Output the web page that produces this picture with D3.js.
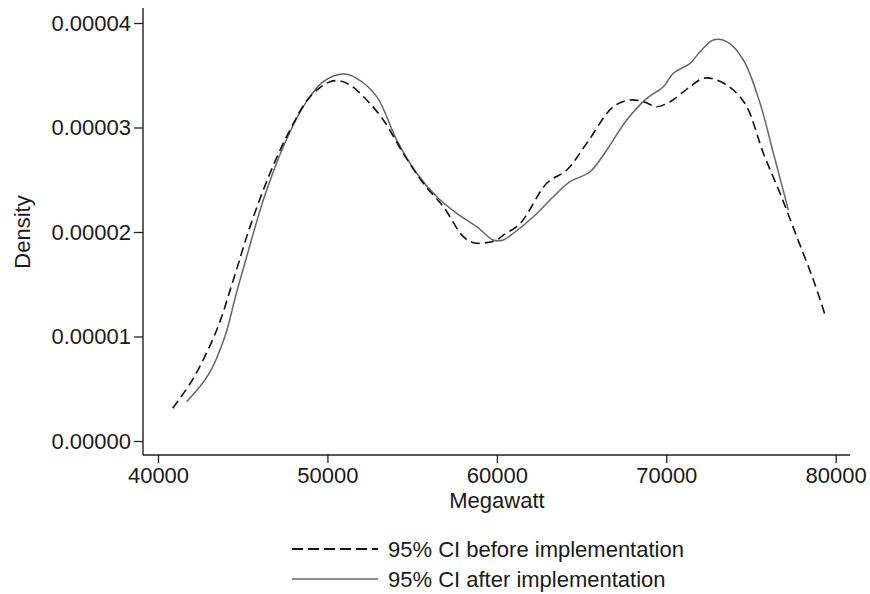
<!DOCTYPE html>
<html>
<head>
<meta charset="utf-8">
<script src="https://cdn.jsdelivr.net/npm/d3@7"></script>
<style>
  body { margin: 0; background: #fff; }
  text { font-family: "Liberation Sans", Arial, sans-serif; fill: #1a1a1a; }
</style>
</head>
<body>
<div id="chart"></div>
<script>
// kernel density, before implementation (dashed)
const beforeX = [40868, 42084, 43465, 44445, 45431, 46611, 47792, 48973, 50153, 50743,
    51334, 52320, 53300, 54480, 55661, 56841, 58022, 58612, 59403, 59993,
    60383, 61370, 62945, 64126, 65306, 66876, 67862, 68648, 69438, 70223,
    71404, 72190, 72980, 73960, 74751, 75731, 76717, 77702, 78683, 79373];
const beforeY = [0.313, 0.600, 1.062, 1.541, 2.051, 2.562, 2.976, 3.295, 3.438, 3.445,
    3.407, 3.263, 3.072, 2.753, 2.466, 2.242, 1.955, 1.898, 1.898, 1.923,
    1.971, 2.080, 2.466, 2.593, 2.849, 3.199, 3.263, 3.247, 3.199, 3.247,
    3.390, 3.471, 3.455, 3.359, 3.199, 2.753, 2.370, 1.955, 1.541, 1.206];

// kernel density, after implementation (solid)
const afterX = [41694, 42969, 43950, 44600, 45236, 46216, 47396, 48577, 49758, 50938,
    51729, 52910, 54090, 55271, 56452, 57632, 58813, 59793, 60383, 60973,
    62154, 63335, 64320, 65501, 66487, 67667, 68848, 69828, 70419, 71404,
    71994, 72780, 73571, 74551, 75536, 76322, 77207];
const afterY = [0.376, 0.632, 1.000, 1.400, 1.764, 2.306, 2.816, 3.199, 3.438, 3.512,
    3.471, 3.295, 2.880, 2.562, 2.338, 2.179, 2.051, 1.923, 1.923, 1.988,
    2.146, 2.338, 2.481, 2.577, 2.785, 3.072, 3.279, 3.390, 3.519, 3.614,
    3.725, 3.837, 3.821, 3.646, 3.232, 2.753, 2.211];

const xTicks = [40000, 50000, 60000, 70000, 80000];
const yTicks = [0, 0.00001, 0.00002, 0.00003, 0.00004];
const legendLabels = ["95% CI before implementation", "95% CI after implementation"];

const width = 870, height = 594;
const fontSize = 22;

const x = d3.scaleLinear().domain([40000, 80000]).range([158, 835.7]);
const y = d3.scaleLinear().domain([0, 0.00004]).range([441, 23]);

const svg = d3.select("#chart").append("svg")
    .attr("width", width)
    .attr("height", height);

const toPoints = (xs, ys) => xs.map((v, i) => [v, ys[i] * 1e-5]);

const line = d3.line()
    .x(d => x(d[0]))
    .y(d => y(d[1]))
    .curve(d3.curveCatmullRom.alpha(0.5));

// axes
const xAxisY = 455, yAxisX = 143;

const xAxis = d3.axisBottom(x)
    .tickValues(xTicks)
    .tickSize(8)
    .tickSizeOuter(0)
    .tickPadding(4)
    .tickFormat(d3.format("d"));

const yAxis = d3.axisLeft(y)
    .tickValues(yTicks)
    .tickSize(9)
    .tickSizeOuter(0)
    .tickPadding(3)
    .tickFormat(d3.format(".5f"));

const gx = svg.append("g")
    .attr("transform", "translate(0," + xAxisY + ")")
    .call(xAxis);
gx.select(".domain").remove();

const gy = svg.append("g")
    .attr("transform", "translate(" + yAxisX + ",0)")
    .call(yAxis);
gy.select(".domain").remove();

svg.selectAll(".tick line").attr("stroke", "#222").attr("stroke-width", 1.3);
svg.selectAll(".tick text")
    .attr("font-size", fontSize)
    .attr("font-family", "Liberation Sans, Arial, sans-serif")
    .attr("fill", "#1a1a1a");

// axis lines
svg.append("line")
    .attr("x1", yAxisX).attr("x2", yAxisX)
    .attr("y1", 8).attr("y2", xAxisY)
    .attr("stroke", "#222").attr("stroke-width", 1.4);
svg.append("line")
    .attr("x1", yAxisX).attr("x2", 850)
    .attr("y1", xAxisY).attr("y2", xAxisY)
    .attr("stroke", "#222").attr("stroke-width", 1.4);

// axis titles
svg.append("text")
    .attr("x", 497).attr("y", 508)
    .attr("text-anchor", "middle")
    .attr("font-size", fontSize)
    .text("Megawatt");

svg.append("text")
    .attr("transform", "translate(30,232) rotate(-90)")
    .attr("text-anchor", "middle")
    .attr("font-size", fontSize)
    .text("Density");

// curves
svg.append("path")
    .datum(toPoints(afterX, afterY))
    .attr("fill", "none")
    .attr("stroke", "#666")
    .attr("stroke-width", 1.5)
    .attr("d", line);

svg.append("path")
    .datum(toPoints(beforeX, beforeY))
    .attr("fill", "none")
    .attr("stroke", "#111")
    .attr("stroke-width", 1.6)
    .attr("stroke-dasharray", "9,5")
    .attr("d", line);

// legend
const legend = svg.append("g");
const styles = [{stroke: "#111", dash: "11,5", w: 1.8}, {stroke: "#666", dash: null, w: 1.5}];
legendLabels.forEach((lab, i) => {
    const ly = 549 + i * 30;
    legend.append("line")
        .attr("x1", 292).attr("x2", 378)
        .attr("y1", ly).attr("y2", ly)
        .attr("stroke", styles[i].stroke)
        .attr("stroke-width", styles[i].w)
        .attr("stroke-dasharray", styles[i].dash);
    legend.append("text")
        .attr("x", 388).attr("y", ly + 8)
        .attr("font-size", fontSize)
        .text(lab);
});
</script>
</body>
</html>
